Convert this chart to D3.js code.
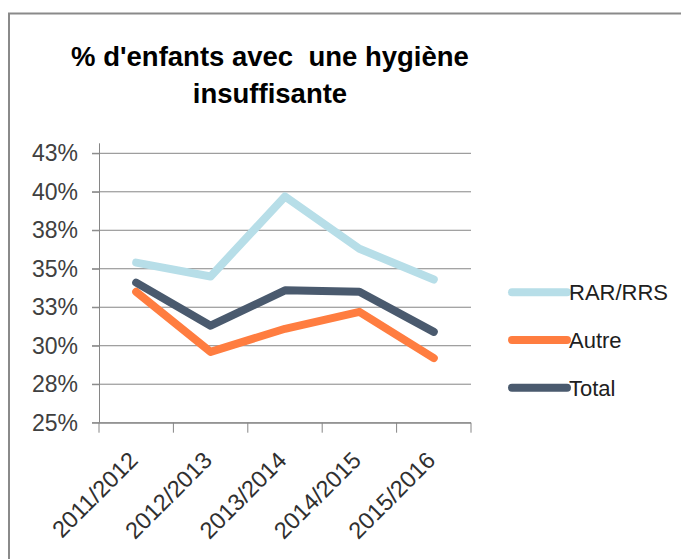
<!DOCTYPE html>
<html><head><meta charset="utf-8">
<script src="https://cdn.jsdelivr.net/npm/d3@7"></script>
<style>body{margin:0;background:#fff}svg{display:block}</style>
</head><body>
<svg id="c" width="681" height="559"></svg>
<script>
const categories = ["2011/2012","2012/2013","2013/2014","2014/2015","2015/2016"];
const rarRrs = [35.4, 34.5, 39.7, 36.3, 34.3];
const autre  = [33.5, 29.6, 31.1, 32.2, 29.2];
const total  = [34.1, 31.3, 33.6, 33.5, 30.9];
const yTicks = [25, 27.5, 30, 32.5, 35, 37.5, 40, 42.5];
const yTickLabels = ["25%","28%","30%","33%","35%","38%","40%","43%"];
const seriesNames = ["RAR/RRS","Autre","Total"];
const colors = ["#B7DEE8","#FF7D40","#4A5A6E"];
const titleLines = ["% d'enfants avec  une hygiène","insuffisante"];

const svg = d3.select("#c");
const font = "'Liberation Sans',Arial,sans-serif";

// frame
svg.append("rect").attr("x",9).attr("y",13.5).attr("width",700).attr("height",600)
  .attr("fill","none").attr("stroke","#8a8a8a").attr("stroke-width",2);

const L=99,R=471,T=153.3,B=422.7;
const x = d3.scaleBand().domain(categories).range([L,R]);
const y = d3.scaleLinear().domain([25,42.5]).range([B,T]);

// grid
svg.append("g").selectAll("line").data(yTicks).join("line")
  .attr("x1",92).attr("x2",R).attr("y1",d=>y(d)).attr("y2",d=>y(d))
  .attr("stroke","#868686").attr("stroke-width",1);

// y axis
const ya = svg.append("g").attr("transform",`translate(${L},0)`)
  .call(d3.axisLeft(y).tickValues(yTicks).tickFormat((d,i)=>yTickLabels[i]).tickSize(7).tickPadding(14));
ya.select(".domain").attr("stroke","#868686").attr("d",`M0.5,${B}V${T-10}`);
ya.selectAll(".tick line").attr("stroke","#868686");
ya.selectAll("text").attr("font-family",font).attr("font-size",23).attr("fill","#404040");

// x axis
const xa = svg.append("g").attr("transform",`translate(0,${B})`)
  .call(d3.axisBottom(x).tickSize(0).tickFormat(""));
xa.select(".domain").attr("stroke","#868686").attr("d",`M${L},0.5H${R}`);
const bounds = categories.map(c=>x(c)).concat([R]);
xa.append("g").selectAll("line").data(bounds).join("line")
  .attr("x1",d=>d).attr("x2",d=>d).attr("y1",0).attr("y2",10).attr("stroke","#868686");
xa.append("g").selectAll("text").data(categories).join("text")
  .attr("transform",d=>`translate(${x(d)+x.bandwidth()/2+3},${39}) rotate(-45)`)
  .attr("text-anchor","end").attr("font-family",font).attr("font-size",23.5).attr("fill","#303030")
  .text(d=>d);

// lines
const data = [rarRrs, autre, total];
const line = d3.line().x((d,i)=>x(categories[i])+x.bandwidth()/2).y(d=>y(d));
svg.append("g").selectAll("path").data(data).join("path")
  .attr("d",d=>line(d)).attr("fill","none")
  .attr("stroke",(d,i)=>colors[i]).attr("stroke-width",8)
  .attr("stroke-linecap","round").attr("stroke-linejoin","round");

// legend
const legY = [292.3, 340, 387.7];
const lg = svg.append("g").selectAll("g").data(seriesNames).join("g")
  .attr("transform",(d,i)=>`translate(0,${legY[i]})`);
lg.append("line").attr("x1",512).attr("x2",567).attr("stroke",(d,i)=>colors[i])
  .attr("stroke-width",8).attr("stroke-linecap","round");
lg.append("text").attr("x",569).attr("y",8).attr("font-family",font).attr("font-size",22)
  .attr("fill","#202020").text(d=>d);

// title
svg.append("g").selectAll("text").data(titleLines).join("text")
  .attr("x",270).attr("y",(d,i)=>66+i*37).attr("text-anchor","middle")
  .style("white-space","pre")
  .attr("font-family",font).attr("font-weight","bold").attr("font-size",27.5).attr("fill","#000")
  .text(d=>d);
</script>
</body></html>
